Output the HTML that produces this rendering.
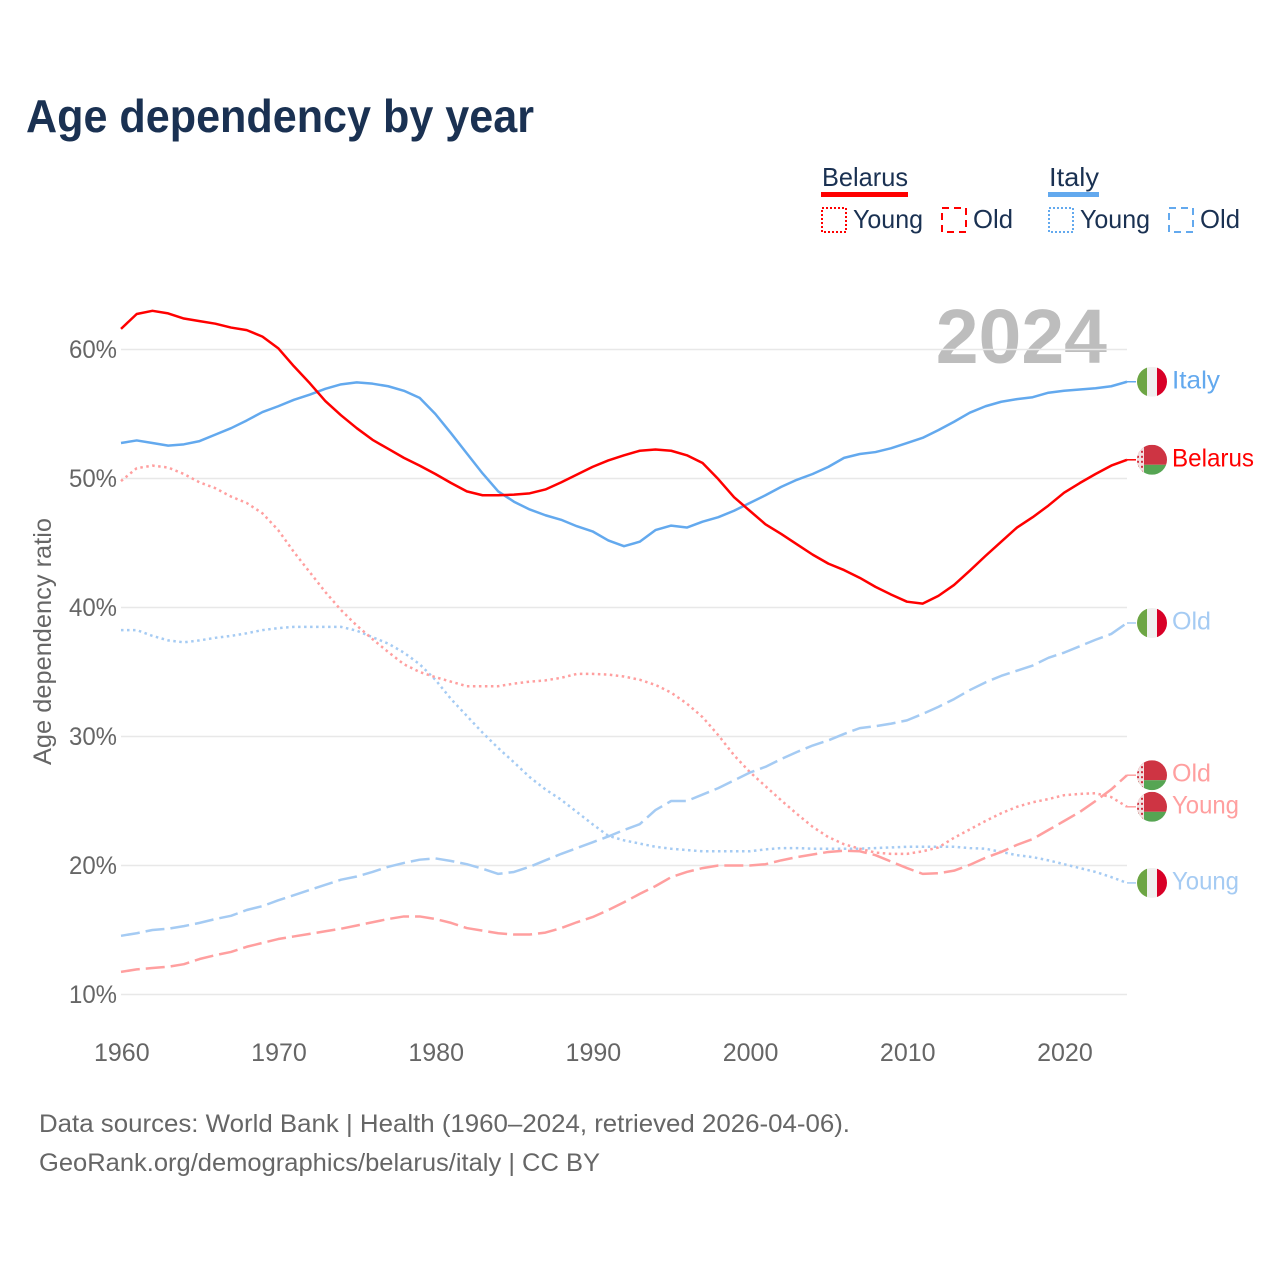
<!DOCTYPE html>
<html lang="en">
<head>
<meta charset="utf-8">
<title>Age dependency by year</title>
<style>
html,body{margin:0;padding:0;background:#fff;width:1280px;height:1280px;overflow:hidden}
svg{display:block}
text{font-family:"Liberation Sans",sans-serif}
</style>
</head>
<body>
<svg id="chart" xmlns="http://www.w3.org/2000/svg" width="1280" height="1280" viewBox="0 0 1280 1280">
  <defs>
    <clipPath id="flag-clip"><circle cx="0" cy="0" r="15"/></clipPath>
    <pattern id="orn" width="4" height="5" patternUnits="userSpaceOnUse">
      <rect width="4" height="5" fill="#f3dfe0"/>
      <rect x="1" y="1" width="2" height="2" fill="#ce2f3f"/>
    </pattern>
  </defs>
  <rect width="1280" height="1280" fill="#fff"/>
  <text x="26" y="132" font-size="46" font-weight="700" fill="#1a3152" textLength="508" lengthAdjust="spacingAndGlyphs">Age dependency by year</text>

  <g font-size="26" fill="#1a3152">
    <text x="822" y="186" textLength="86" lengthAdjust="spacingAndGlyphs">Belarus</text>
    <rect x="821" y="192" width="87" height="5" fill="#ff0000"/>
    <rect x="822" y="208" width="24" height="24" fill="none" stroke="#ff0000" stroke-width="2" stroke-dasharray="2 2"/>
    <text x="853" y="228" textLength="70" lengthAdjust="spacingAndGlyphs">Young</text>
    <rect x="942" y="208" width="24" height="24" fill="none" stroke="#ff0000" stroke-width="2" stroke-dasharray="7 5"/>
    <text x="973" y="228" textLength="40" lengthAdjust="spacingAndGlyphs">Old</text>

    <text x="1049" y="186" textLength="50" lengthAdjust="spacingAndGlyphs">Italy</text>
    <rect x="1048" y="192" width="51" height="5" fill="#63a9ee"/>
    <rect x="1049" y="208" width="24" height="24" fill="none" stroke="#63a9ee" stroke-width="2" stroke-dasharray="2 2"/>
    <text x="1080" y="228" textLength="70" lengthAdjust="spacingAndGlyphs">Young</text>
    <rect x="1169" y="208" width="24" height="24" fill="none" stroke="#63a9ee" stroke-width="2" stroke-dasharray="7 5"/>
    <text x="1200" y="228" textLength="40" lengthAdjust="spacingAndGlyphs">Old</text>
  </g>

  <text x="1107" y="363" text-anchor="end" font-size="77" font-weight="700" fill="#bdbdbd">2024</text>
  <g id="grid"></g>
  <g id="yticks"></g>
  <g id="xticks"></g>
  <text transform="translate(51,765) rotate(-90)" x="0" y="0" font-size="25" fill="#666" textLength="247" lengthAdjust="spacingAndGlyphs">Age dependency ratio</text>
  <g id="series"></g>
  <g id="labels"></g>

  <text x="39" y="1132" font-size="25" fill="#666" textLength="811" lengthAdjust="spacingAndGlyphs">Data sources: World Bank | Health (1960–2024, retrieved 2026-04-06).</text>
  <text x="39" y="1171" font-size="25" fill="#666" textLength="561" lengthAdjust="spacingAndGlyphs">GeoRank.org/demographics/belarus/italy | CC BY</text>
</svg>
<script>
const startYear = 1960;
const endYear = 2024;
const yTickValues = [10, 20, 30, 40, 50, 60];
const xTickValues = [1960, 1970, 1980, 1990, 2000, 2010, 2020];

const belarusTotal = [61.6,62.75,63,62.8,62.4,62.2,62,61.7,61.5,61,60.1,58.7,57.4,56,54.9,53.9,53,52.3,51.6,51,50.35,49.65,49,48.7,48.7,48.75,48.85,49.15,49.7,50.3,50.9,51.4,51.8,52.15,52.25,52.15,51.8,51.2,49.95,48.55,47.5,46.45,45.7,44.9,44.1,43.4,42.9,42.3,41.6,41,40.45,40.3,40.9,41.75,42.85,44,45.1,46.2,47,47.9,48.9,49.65,50.35,51,51.45];
const italyTotal = [52.75,52.95,52.75,52.55,52.65,52.9,53.4,53.9,54.5,55.15,55.6,56.1,56.5,56.95,57.3,57.45,57.35,57.15,56.8,56.25,55,53.5,51.95,50.4,49,48.2,47.6,47.15,46.8,46.3,45.9,45.2,44.75,45.1,46,46.35,46.2,46.65,47,47.5,48.1,48.7,49.35,49.9,50.35,50.9,51.6,51.9,52.05,52.35,52.75,53.15,53.75,54.4,55.1,55.6,55.95,56.15,56.3,56.65,56.8,56.9,57,57.15,57.5];
const belarusYoung = [49.8,50.8,51,50.85,50.35,49.7,49.25,48.6,48.1,47.3,46,44.3,42.75,41.2,39.8,38.6,37.55,36.55,35.6,35,34.6,34.25,33.9,33.9,33.9,34.1,34.25,34.35,34.55,34.85,34.85,34.8,34.65,34.4,34,33.4,32.55,31.5,30.1,28.55,27.25,26.15,25.05,24,23,22.2,21.65,21.3,21,20.9,20.9,21.1,21.4,22.15,22.8,23.45,24.05,24.55,24.9,25.15,25.45,25.55,25.6,25.3,24.55];
const italyYoung = [38.25,38.25,37.8,37.45,37.3,37.45,37.65,37.8,38,38.25,38.4,38.5,38.5,38.5,38.5,38.2,37.7,37.2,36.5,35.6,34.4,32.9,31.6,30.3,29.1,28,26.85,25.9,25.1,24.15,23.2,22.3,21.95,21.7,21.45,21.3,21.2,21.1,21.1,21.1,21.1,21.25,21.35,21.35,21.3,21.3,21.3,21.3,21.35,21.4,21.45,21.45,21.45,21.45,21.35,21.3,21.05,20.8,20.65,20.4,20.1,19.8,19.5,19.1,18.65];
const italyOld = [14.55,14.75,15,15.1,15.3,15.55,15.85,16.1,16.55,16.85,17.3,17.7,18.1,18.5,18.9,19.15,19.5,19.9,20.2,20.45,20.55,20.35,20.1,19.75,19.35,19.5,19.9,20.4,20.9,21.35,21.8,22.25,22.75,23.2,24.3,25,25,25.5,26,26.6,27.2,27.65,28.25,28.8,29.3,29.7,30.2,30.65,30.8,31,31.25,31.75,32.3,32.9,33.6,34.2,34.7,35.1,35.5,36.1,36.5,37,37.5,37.95,38.8];
const belarusOld = [11.75,11.95,12.05,12.15,12.35,12.75,13.05,13.3,13.7,14,14.3,14.5,14.7,14.9,15.1,15.35,15.6,15.85,16.05,16.05,15.85,15.55,15.15,14.95,14.75,14.65,14.65,14.8,15.15,15.6,16,16.55,17.15,17.8,18.4,19.1,19.5,19.8,20,20,20,20.1,20.4,20.65,20.85,21.05,21.15,21.1,20.8,20.3,19.8,19.35,19.4,19.6,20.05,20.6,21.05,21.6,22.05,22.75,23.45,24.15,25,25.9,27];

const NS = 'http://www.w3.org/2000/svg';
const plotLeft = 121, plotRight = 1127;
function xScale(year){ return plotLeft + (year - startYear) * (plotRight - plotLeft) / (endYear - startYear); }
function yScale(v){ return 994.5 - (v - 10) * 12.9; }
function make(tag, parent, attrs, txt){
  const el = document.createElementNS(NS, tag);
  for (const k in attrs) el.setAttribute(k, attrs[k]);
  if (txt !== undefined) el.textContent = txt;
  parent.appendChild(el);
  return el;
}
const gGrid = document.getElementById('grid');
const gY = document.getElementById('yticks');
const gX = document.getElementById('xticks');
const gS = document.getElementById('series');
const gL = document.getElementById('labels');

yTickValues.forEach(function(v){
  const line = make('line', gGrid, {x1:plotLeft, x2:plotRight, y1:yScale(v), y2:yScale(v), stroke:'#e8e8e8', 'stroke-width':1.5});
  
  
  const t = make('text', gY, {x:69, y:yScale(v)+8.5, 'font-size':25, fill:'#666', textLength:48, lengthAdjust:'spacingAndGlyphs'}, v + '%');
  
  
});
xTickValues.forEach(function(y){
  const t = make('text', gX, {x:xScale(y)+0.8, y:1061, 'font-size':25, fill:'#666', 'text-anchor':'middle'}, String(y));
  
  
});

function pathFor(values){
  return values.map(function(v, i){
    return (i ? 'L' : 'M') + xScale(startYear + i).toFixed(2) + ' ' + yScale(v).toFixed(2);
  }).join(' ');
}
function drawFlag(kind, y){
  const g = make('g', gL, {transform:'translate(1152,' + y + ')', 'clip-path':'url(#flag-clip)'});
  
  
  if (kind === 'italy') {
    make('rect', g, {x:-15, y:-15, width:10, height:30, fill:'#6da544'});
    make('rect', g, {x:-5, y:-15, width:10, height:30, fill:'#f0f0f0'});
    make('rect', g, {x:5, y:-15, width:10, height:30, fill:'#d80027'});
  } else {
    make('rect', g, {x:-15, y:-15, width:30, height:20, fill:'#ce3443'});
    make('rect', g, {x:-15, y:5, width:30, height:10, fill:'#56a553'});
    make('rect', g, {x:-15, y:-15, width:7, height:30, fill:'url(#orn)'});
  }
}
function drawSeries(name, kind, label, labelWidth, values, color, dash, labelColor){
  const p = make('path', gS, {d:pathFor(values), fill:'none', stroke:color, 'stroke-width':2.5, 'stroke-linejoin':'round'});
  if (dash) p.setAttribute('stroke-dasharray', dash);
  
  
  const yEnd = yScale(values[values.length - 1]);
  const conn = make('line', gL, {x1:plotRight, x2:1136, y1:yEnd, y2:yEnd, stroke:labelColor, 'stroke-width':1.5});
  
  
  drawFlag(kind, yEnd);
  const t = make('text', gL, {x:1172, y:yEnd + 6.5, 'font-size':25, fill:labelColor, textLength:labelWidth, lengthAdjust:'spacingAndGlyphs'}, label);
  
  
}
drawSeries('italy-young', 'italy', 'Young', 67, italyYoung, '#a5cbf3', '2.5 3.5', '#a5cbf3');
drawSeries('belarus-young', 'belarus', 'Young', 67, belarusYoung, '#ff9f9f', '2.5 3.5', '#ff9f9f');
drawSeries('italy-old', 'italy', 'Old', 39, italyOld, '#a5cbf3', '19 6', '#a5cbf3');
drawSeries('belarus-old', 'belarus', 'Old', 39, belarusOld, '#ff9f9f', '19 6', '#ff9f9f');
drawSeries('italy-total', 'italy', 'Italy', 48, italyTotal, '#63a9ee', '', '#63a9ee');
drawSeries('belarus-total', 'belarus', 'Belarus', 82, belarusTotal, '#ff0000', '', '#ff0000');
</script>
</body>
</html>
